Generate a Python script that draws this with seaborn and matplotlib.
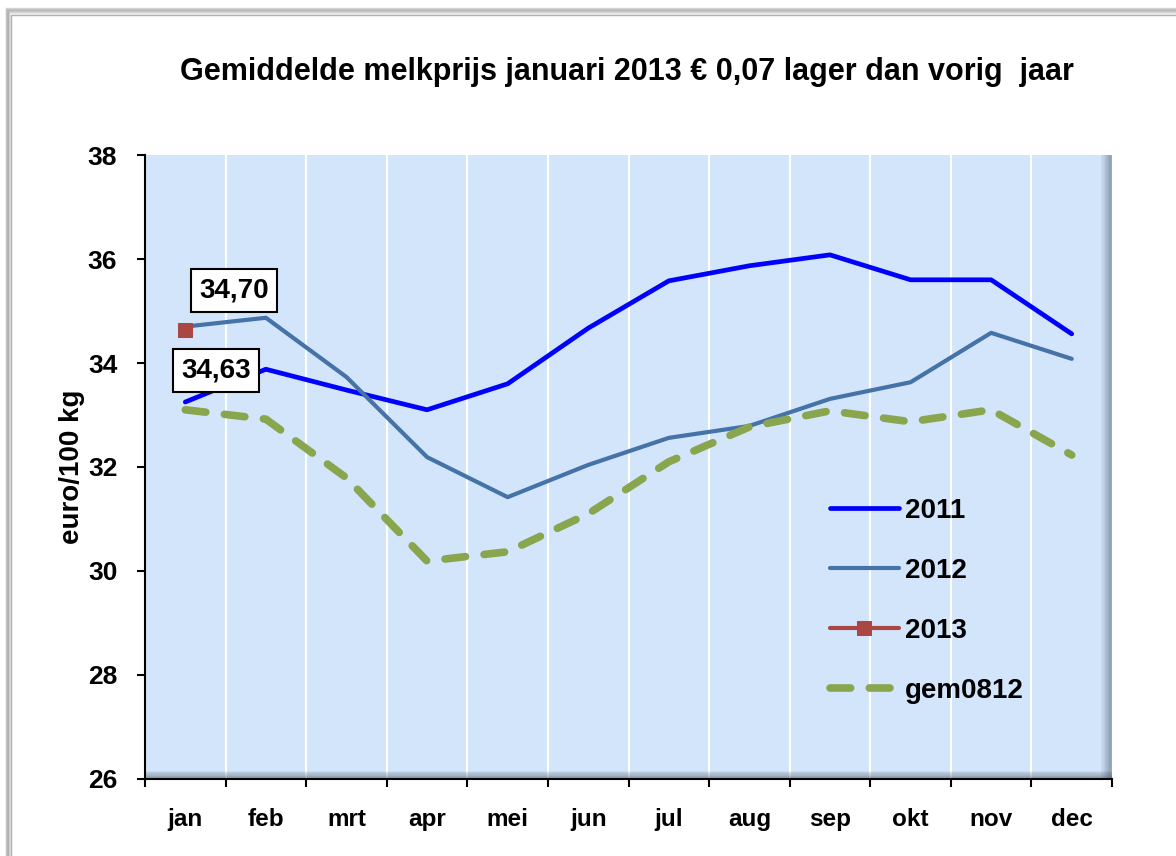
import numpy as np
import pandas as pd
import seaborn as sns
import matplotlib.pyplot as plt
from matplotlib.patches import Rectangle

months = ['jan', 'feb', 'mrt', 'apr', 'mei', 'jun', 'jul', 'aug', 'sep', 'okt', 'nov', 'dec']
prices_2011 = [33.25, 33.88, 33.48, 33.10, 33.60, 34.67, 35.58, 35.87, 36.08, 35.60, 35.60, 34.56]
prices_2012 = [34.70, 34.87, 33.73, 32.19, 31.42, 32.04, 32.56, 32.79, 33.31, 33.63, 34.58, 34.08]
prices_2013 = [34.63]
prices_gem0812 = [33.10, 32.92, 31.79, 30.19, 30.37, 31.10, 32.10, 32.77, 33.08, 32.87, 33.10, 32.23]

title = 'Gemiddelde melkprijs januari 2013 \u20ac 0,07 lager dan vorig  jaar'

sns.set_style('white')
plt.rcParams['font.family'] = ['Liberation Sans', 'DejaVu Sans']
plt.rcParams['font.weight'] = 'bold'
plt.rcParams['text.color'] = 'black'
plt.rcParams['axes.labelcolor'] = 'black'
plt.rcParams['xtick.color'] = 'black'
plt.rcParams['ytick.color'] = 'black'

fig = plt.figure(figsize=(11.76, 8.56), dpi=100)
fig.patch.set_facecolor('white')

# outer chart frame with soft shadow
for i, a in enumerate([0.06, 0.1, 0.15, 0.22, 0.3]):
    off = (5 - i) * 0.002
    fig.patches.append(Rectangle((0.005 + off * 0.3, -0.05), 1.1, 1.04 - off * 0.5,
                                 transform=fig.transFigure, fill=False, zorder=-2,
                                 edgecolor='#808080', linewidth=2.5, alpha=a))
fig.patches.append(Rectangle((0.009, -0.05), 1.1, 1.0325, transform=fig.transFigure,
                             facecolor='white', edgecolor='#b0b0b0', linewidth=1, zorder=-1))

ax = fig.add_axes([0.1233, 0.0900, 0.8223, 0.7289])
ax.set_facecolor('#d3e5fb')

x = np.arange(len(months))

sns.lineplot(x=x, y=prices_2011, ax=ax, color='#0000ff', linewidth=3.4, label='2011')
sns.lineplot(x=x, y=prices_2012, ax=ax, color='#4572a7', linewidth=3.0, label='2012')
sns.lineplot(x=x[:len(prices_2013)], y=prices_2013, ax=ax, color='#aa4643', linewidth=3.0,
             marker='s', markersize=10, markeredgecolor='#aa4643', label='2013')
sns.lineplot(x=x, y=prices_gem0812, ax=ax, color='#89a54e', linewidth=5.5,
             dashes=(2.7, 2.45), label='gem0812', solid_capstyle='round', dash_capstyle='round')

ax.set_xlim(-0.5, 11.5)
ax.set_ylim(26, 38)
ax.set_yticks([26, 28, 30, 32, 34, 36, 38])
ax.set_xticks(x)
ax.set_xticklabels(months)
ax.set_xticks(np.arange(-0.5, 12, 1), minor=True)
ax.tick_params(axis='x', which='major', bottom=False, length=0, pad=21, labelsize=17.5)
ax.tick_params(axis='x', which='minor', bottom=True, length=6, width=1.5, color='black',
               direction='out')
ax.tick_params(axis='y', left=True, length=6, width=1.5, color='black', direction='out',
               pad=14, labelsize=19)
ax.grid(False)
ax.grid(True, axis='x', which='minor', color='white', linewidth=1.5)
ax.set_axisbelow(True)

for side in ['top', 'right']:
    ax.spines[side].set_visible(False)
for side in ['left', 'bottom']:
    ax.spines[side].set_color('black')
    ax.spines[side].set_linewidth(1.5)

# bevel shading along right and bottom edges of the plot area
for i in range(10):
    w = (10 - i) * 0.0011
    ax.add_patch(Rectangle((1 - w, 0), w, 1, transform=ax.transAxes,
                           facecolor='#3c4a5c', alpha=0.06, linewidth=0, zorder=0.9))
    ax.add_patch(Rectangle((0, 0), 1, w * 1.2, transform=ax.transAxes,
                           facecolor='#3c4a5c', alpha=0.06, linewidth=0, zorder=0.9))

ax.set_ylabel('euro/100 kg', fontsize=20, fontweight='bold', labelpad=2)
ax.set_xlabel('')
fig.text(0.533, 0.916, title, ha='center', va='center', fontsize=22, fontweight='bold')

box = dict(boxstyle='square,pad=0.3', facecolor='white', edgecolor='black', linewidth=1.5)
ax.annotate('34,70', xy=(0, prices_2012[0]), xytext=(35, 26), textcoords='offset points',
            ha='center', va='center', fontsize=20, fontweight='bold', bbox=box)
ax.annotate('34,63', xy=(0, prices_2013[0]), xytext=(22, -29), textcoords='offset points',
            ha='center', va='center', fontsize=20, fontweight='bold', bbox=box)

leg = ax.legend(loc='upper left', bbox_to_anchor=(0.708, 0.45), frameon=False,
                borderaxespad=0, borderpad=0, fontsize=20, handlelength=2.5,
                labelspacing=1.22, handletextpad=0.2)
for t in leg.get_texts():
    t.set_fontweight('bold')

fig.savefig('out.png', dpi=100)
